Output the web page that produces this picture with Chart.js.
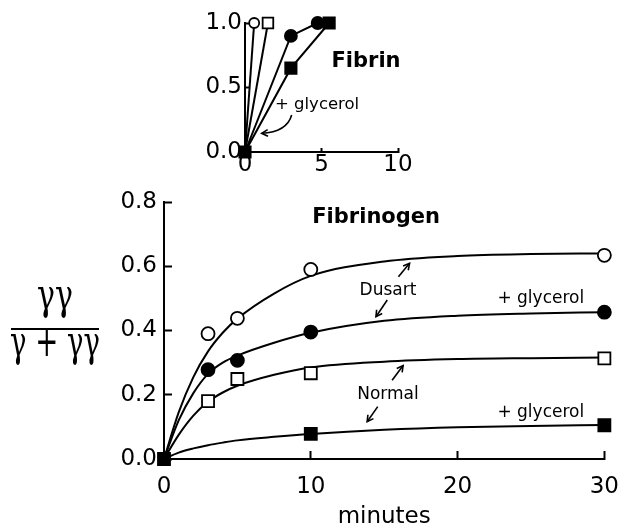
<!DOCTYPE html>
<html>
<head>
<meta charset="utf-8">
<script src="https://cdn.jsdelivr.net/npm/chart.js@4"></script>
<style>
  html, body { margin: 0; padding: 0; background: #fff; }
  #quadro { position: relative; width: 641px; height: 531px; }
  canvas { position: absolute; left: 0; top: 0; }
</style>
</head>
<body>
<div id="quadro">
  <canvas id="fibrinogenio" width="641" height="531"></canvas>
  <canvas id="fibrina" width="641" height="531"></canvas>
</div>
<script>
// ---- Fibrinogen panel (minutes) ----
var fgTempos = [3, 5, 10, 30];
var dusart = [0.39, 0.438, 0.59, 0.634];
var dusartGlicerol = [0.278, 0.307, 0.395, 0.457];
var normal = [0.18, 0.249, 0.267, 0.313];
var normalGlicerolTempos = [0, 10, 30];
var normalGlicerol = [0, 0.078, 0.105];

// fitted curves
var curvaTempos = [0, 1, 2, 3, 4, 5, 7.5, 10, 15, 20, 25, 30];
var curvaDusart = [0, 0.145, 0.255, 0.335, 0.393, 0.437, 0.515, 0.57, 0.615, 0.632, 0.638, 0.64];
var curvaDusartGlicerol = [0, 0.12, 0.205, 0.265, 0.3, 0.322, 0.362, 0.393, 0.43, 0.446, 0.453, 0.457];
var curvaNormal = [0, 0.075, 0.135, 0.178, 0.207, 0.228, 0.262, 0.285, 0.303, 0.311, 0.314, 0.316];
var curvaNormalGlicerol = [0, 0.02, 0.033, 0.043, 0.051, 0.058, 0.069, 0.078, 0.091, 0.099, 0.103, 0.106];

var fgTicksX = [0, 10, 20, 30];
var fgTicksY = [0, 0.2, 0.4, 0.6, 0.8];

// ---- Fibrin inset ----
var fbDusartX = [0, 0.6];
var fbDusartY = [0, 1.0];
var fbNormalX = [0, 1.5];
var fbNormalY = [0, 1.0];
var fbDusartGlicerolX = [0, 3, 4.75];
var fbDusartGlicerolY = [0, 0.9, 1.0];
var fbNormalGlicerolX = [0, 3, 5.5];
var fbNormalGlicerolY = [0, 0.65, 1.0];
var fbTicksX = [0, 5, 10];
var fbTicksY = [0, 0.5, 1];

Chart.defaults.color = '#000';
Chart.defaults.font.family = 'DejaVu Sans';
Chart.defaults.animation = false;

function pontos(xs, ys) {
  return xs.map(function (x, i) { return { x: x, y: ys[i] }; });
}

function marcadores(nome, xs, ys, estilo, cheio, raio) {
  return {
    label: nome,
    data: pontos(xs, ys),
    showLine: false,
    pointStyle: estilo,
    pointRadius: raio,
    pointBackgroundColor: cheio ? '#000' : '#fff',
    pointBorderColor: '#000',
    pointBorderWidth: 1.8,
    order: 0,
    clip: false
  };
}

function curva(nome, xs, ys) {
  return {
    label: nome,
    data: pontos(xs, ys),
    showLine: true,
    borderColor: '#000',
    borderWidth: 2,
    pointRadius: 0,
    cubicInterpolationMode: 'monotone',
    order: 1,
    clip: false
  };
}

function seta(ctx, x1, y1, x2, y2, cabeca) {
  ctx.beginPath();
  ctx.moveTo(x1, y1);
  ctx.lineTo(x2, y2);
  ctx.stroke();
  var a = Math.atan2(y2 - y1, x2 - x1);
  ctx.beginPath();
  ctx.moveTo(x2 - cabeca * Math.cos(a - 0.5), y2 - cabeca * Math.sin(a - 0.5));
  ctx.lineTo(x2, y2);
  ctx.lineTo(x2 - cabeca * Math.cos(a + 0.5), y2 - cabeca * Math.sin(a + 0.5));
  ctx.stroke();
}

function eixo(ticks, passo, padding, tl, largura, altura) {
  var cfg = {
    type: 'linear',
    min: ticks[0],
    max: ticks[ticks.length - 1],
    ticks: { stepSize: passo, padding: padding, font: { size: 23 } },
    grid: { drawOnChartArea: false, tickLength: tl, tickWidth: 2, tickColor: '#000' },
    border: { color: '#000', width: 2 }
  };
  if (largura) cfg.afterFit = function (s) { s.width = largura; };
  if (altura) cfg.afterFit = function (s) { s.height = altura; };
  return cfg;
}

// fraction text drawn squeezed to a given width
function textoAjustado(ctx, txt, cx, y, largura) {
  var w = ctx.measureText(txt).width;
  ctx.save();
  ctx.translate(cx, y);
  ctx.scale(largura / w, 1);
  ctx.fillText(txt, 0, 0);
  ctx.restore();
}

// texts and arrows of the fibrinogen panel
var notasFibrinogenio = {
  id: 'notasFibrinogenio',
  afterDatasetsDraw: function (chart) {
    var ctx = chart.ctx, sx = chart.scales.x, sy = chart.scales.y;
    function X(v) { return sx.getPixelForValue(v); }
    function Y(v) { return sy.getPixelForValue(v); }
    ctx.save();
    ctx.fillStyle = '#000';
    ctx.strokeStyle = '#000';
    ctx.lineWidth = 1.6;

    ctx.font = 'bold 21px "DejaVu Sans"';
    ctx.textAlign = 'left';
    ctx.textBaseline = 'alphabetic';
    ctx.fillText('Fibrinogen', X(10.1), Y(0.735));

    ctx.font = '17px "DejaVu Sans"';
    ctx.textAlign = 'center';
    ctx.fillText('Dusart', X(15.26), Y(0.511));
    ctx.fillText('Normal', X(15.26), Y(0.188));
    ctx.fillText('+ glycerol', X(25.67), Y(0.485));
    ctx.fillText('+ glycerol', X(25.67), Y(0.131));

    seta(ctx, X(15.97), Y(0.567), X(16.73), Y(0.609), 7);
    seta(ctx, X(15.21), Y(0.495), X(14.44), Y(0.443), 7);
    seta(ctx, X(15.54), Y(0.245), X(16.29), Y(0.291), 7);
    seta(ctx, X(14.56), Y(0.163), X(13.84), Y(0.116), 7);

    // y axis title as a fraction
    ctx.font = '42px "DejaVu Serif"';
    ctx.textAlign = 'center';
    var g = ctx.measureText('\u03b3');
    textoAjustado(ctx, '\u03b3\u03b3', 55, 318 - g.actualBoundingBoxDescent, 36);
    textoAjustado(ctx, '\u03b3 + \u03b3\u03b3', 55, 334 + g.actualBoundingBoxAscent, 90);
    ctx.lineWidth = 2;
    ctx.beginPath();
    ctx.moveTo(11, 329);
    ctx.lineTo(99, 329);
    ctx.stroke();
    ctx.restore();
  }
};

var notasFibrina = {
  id: 'notasFibrina',
  afterDatasetsDraw: function (chart) {
    var ctx = chart.ctx, sx = chart.scales.x, sy = chart.scales.y;
    function X(v) { return sx.getPixelForValue(v); }
    function Y(v) { return sy.getPixelForValue(v); }
    ctx.save();
    ctx.fillStyle = '#000';
    ctx.strokeStyle = '#000';
    ctx.font = 'bold 21px "DejaVu Sans"';
    ctx.textAlign = 'left';
    ctx.fillText('Fibrin', X(5.65), Y(0.661));
    ctx.font = '16.5px "DejaVu Sans"';
    ctx.fillText('+ glycerol', X(1.96), Y(0.333));

    // curved arrow
    var x0 = X(3.05), y0 = Y(0.287), cx = X(2.74), cy = Y(0.155), x1 = X(1.09), y1 = Y(0.145);
    ctx.lineWidth = 1.6;
    ctx.beginPath();
    ctx.moveTo(x0, y0);
    ctx.quadraticCurveTo(cx, cy, x1, y1);
    ctx.stroke();
    var a = Math.atan2(y1 - cy, x1 - cx);
    ctx.beginPath();
    ctx.moveTo(x1 - 7 * Math.cos(a - 0.5), y1 - 7 * Math.sin(a - 0.5));
    ctx.lineTo(x1, y1);
    ctx.lineTo(x1 - 7 * Math.cos(a + 0.5), y1 - 7 * Math.sin(a + 0.5));
    ctx.stroke();
    ctx.restore();
  }
};

// main panel
var eixoX = eixo(fgTicksX, 10, 22, -8, null, 72);
eixoX.title = { display: true, text: 'minutes', font: { size: 23 }, padding: { top: 0, bottom: 0 } };
var eixoY = eixo(fgTicksY, 0.2, 15, -8, 164, null);
eixoY.ticks.callback = function (v) { return v.toFixed(1); };

new Chart(document.getElementById('fibrinogenio'), {
  type: 'scatter',
  data: {
    datasets: [
      curva('Dusart', curvaTempos, curvaDusart),
      curva('Dusart + glycerol', curvaTempos, curvaDusartGlicerol),
      curva('Normal', curvaTempos, curvaNormal),
      curva('Normal + glycerol', curvaTempos, curvaNormalGlicerol),
      marcadores('Dusart', fgTempos, dusart, 'circle', false, 6.5),
      marcadores('Dusart + glycerol', fgTempos, dusartGlicerol, 'circle', true, 6.5),
      marcadores('Normal', fgTempos, normal, 'rect', false, 8.5),
      marcadores('Normal + glycerol', normalGlicerolTempos, normalGlicerol, 'rect', true, 8.5)
    ]
  },
  options: {
    responsive: false,
    layout: { padding: { left: 0, right: 18, top: 202, bottom: 0 } },
    plugins: { legend: { display: false }, tooltip: { enabled: false } },
    scales: { x: eixoX, y: eixoY }
  },
  plugins: [notasFibrinogenio]
});

// inset
function linhaFibrina(nome, xs, ys, estilo, cheio, raio) {
  var d = marcadores(nome, xs, ys, estilo, cheio, raio);
  d.showLine = true;
  d.borderColor = '#000';
  d.borderWidth = 2;
  d.pointRadius = xs.map(function (x) { return x === 0 ? 0 : raio; });
  return d;
}

var inX = eixo(fbTicksX, 5, 3.5, -4, null, 379);
var inY = eixo(fbTicksY, 0.5, 7, -4, 245, null);
inY.ticks.callback = function (v) { return v.toFixed(1); };

new Chart(document.getElementById('fibrina'), {
  type: 'scatter',
  data: {
    datasets: [
      linhaFibrina('Dusart', fbDusartX, fbDusartY, 'circle', false, 5),
      linhaFibrina('Normal', fbNormalX, fbNormalY, 'rect', false, 7.5),
      linhaFibrina('Dusart + glycerol', fbDusartGlicerolX, fbDusartGlicerolY, 'circle', true, 6),
      linhaFibrina('Normal + glycerol', fbNormalGlicerolX, fbNormalGlicerolY, 'rect', true, 8),
      marcadores('origem', [0], [0], 'rect', true, 8)
    ]
  },
  options: {
    responsive: false,
    layout: { padding: { left: 0, right: 243, top: 23, bottom: 0 } },
    plugins: { legend: { display: false }, tooltip: { enabled: false } },
    scales: { x: inX, y: inY }
  },
  plugins: [notasFibrina]
});
</script>
</body>
</html>
